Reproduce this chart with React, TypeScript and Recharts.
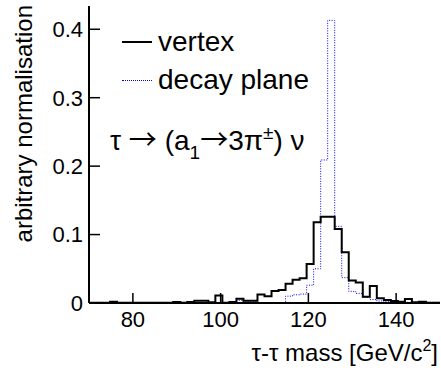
import { ComposedChart, Line, XAxis, YAxis, Legend, Customized } from "recharts";

const FONT = "'Liberation Sans', Arial, Helvetica, sans-serif";
const ARROW_FONT = "'Noto Sans CJK SC', 'DejaVu Sans', sans-serif";

// 50 bins from 70 to 150 GeV (1.6 GeV wide), low edges + final upper edge
const binEdges = [
  70, 71.6, 73.2, 74.8, 76.4, 78, 79.6, 81.2, 82.8, 84.4, 86, 87.6, 89.2, 90.8, 92.4, 94, 95.6,
  97.2, 98.8, 100.4, 102, 103.6, 105.2, 106.8, 108.4, 110, 111.6, 113.2, 114.8, 116.4, 118, 119.6,
  121.2, 122.8, 124.4, 126, 127.6, 129.2, 130.8, 132.4, 134, 135.6, 137.2, 138.8, 140.4, 142,
  143.6, 145.2, 146.8, 148.4, 150,
];

const vertex = [
  0.0005, 0.0005, 0.0005, 0.002, 0.0005, 0.0003, 0.0003, 0.0003, 0.0003, 0.0003,
  0.0003, 0.0005, 0.0015, 0.0005, 0.0015, 0.0034, 0.0034, 0.001, 0.011, 0.0005,
  0.0015, 0.0063, 0.0034, 0.0034, 0.0126, 0.0097, 0.0175, 0.019, 0.028, 0.034,
  0.036, 0.057, 0.118, 0.126, 0.126, 0.108, 0.074, 0.033, 0.03, 0.009,
  0.025, 0.007, 0.0045, 0.003, 0.002, 0.006, 0.001, 0.002, 0.0005, 0.0005,
];

const decayPlane = [
  0.0003, 0.0003, 0.0003, 0.0003, 0.0003, 0.0003, 0.0003, 0.0003, 0.0003, 0.0003,
  0.0003, 0.0003, 0.001, 0.001, 0.001, 0.001, 0.001, 0.0008, 0.0008, 0.0008,
  0.0008, 0.0039, 0.0024, 0.0024, 0.0005, 0.0005, 0.0005, 0.0005, 0.01, 0.012,
  0.013, 0.026, 0.05, 0.209, 0.413, 0.112, 0.037, 0.017, 0.014, 0.008,
  0.005, 0.003, 0.002, 0.001, 0.001, 0.001, 0.001, 0.001, 0.001, 0.001,
];

const xTicks = [80, 100, 120, 140];
const yTicks = [0, 0.1, 0.2, 0.3, 0.4];
const yMax = 0.434;

const data = binEdges.map((m, i) => ({
  m,
  vertex: vertex[Math.min(i, vertex.length - 1)],
  plane: decayPlane[Math.min(i, decayPlane.length - 1)],
}));

const XTick = ({ x, y, payload }: any) => (
  <g>
    <line x1={x} x2={x} y1={y} y2={y - 10} stroke="#000" strokeWidth={1.5} />
    <text x={x} y={y + 24} textAnchor="middle" fontFamily={FONT} fontSize={22} fill="#000">
      {payload.value}
    </text>
  </g>
);

const YTick = ({ x, y, payload }: any) => (
  <g>
    <line x1={x} x2={x + 11} y1={y} y2={y} stroke="#000" strokeWidth={1.5} />
    <text x={x - 6} y={y} dy="0.36em" textAnchor="end" fontFamily={FONT} fontSize={22} fill="#000">
      {String(payload.value)}
    </text>
  </g>
);

const LegendBox = () => (
  <div style={{ fontFamily: FONT, fontSize: 28, color: "#000" }}>
    <div style={{ display: "flex", alignItems: "center", height: 38 }}>
      <div style={{ width: 30, borderTop: "2px solid #000", marginRight: 6 }} />
      <span>vertex</span>
    </div>
    <div style={{ display: "flex", alignItems: "center", height: 38 }}>
      <div style={{ width: 30, borderTop: "1px dotted #0000ff", marginRight: 6 }} />
      <span>decay plane</span>
    </div>
  </div>
);

const Texts = () => (
  <g fontFamily={FONT} fill="#000">
    <text x={110} y={150} fontSize={28}>
      τ <tspan fontFamily={ARROW_FONT}>→</tspan> (a
      <tspan dy={9} fontSize={19}>1</tspan>
      <tspan dy={-9} fontFamily={ARROW_FONT}>→</tspan>
      <tspan>3π</tspan>
      <tspan dy={-11} fontSize={19}>±</tspan>
      <tspan dy={11}>) ν</tspan>
    </text>
    <text x={438} y={361} textAnchor="end" fontSize={24}>
      τ-τ mass [GeV/c
      <tspan dy={-10} fontSize={16}>2</tspan>
      <tspan dy={10}>]</tspan>
    </text>
    <text transform="rotate(-90)" x={-5} y={32} textAnchor="end" fontSize={24}>
      arbitrary normalisation
    </text>
  </g>
);

export default function App() {
  return (
    <div style={{ position: "absolute", left: 0, top: 0, width: 441, height: 370, background: "#fff" }}>
      <ComposedChart width={441} height={370} data={data} margin={{ top: 6, right: 1, bottom: 0, left: 0 }}>
        <XAxis
          dataKey="m"
          type="number"
          domain={[70, 150]}
          ticks={xTicks}
          allowDataOverflow
          height={67}
          tickSize={0}
          tickMargin={0}
          tickLine={false}
          tick={<XTick />}
          axisLine={{ stroke: "#000", strokeWidth: 2 }}
        />
        <XAxis
          xAxisId="top"
          orientation="top"
          type="number"
          domain={[70, 150]}
          height={0}
          tick={false}
          tickLine={false}
          axisLine={{ stroke: "#000", strokeWidth: 2 }}
        />
        <YAxis
          type="number"
          domain={[0, yMax]}
          ticks={yTicks}
          allowDataOverflow
          width={89}
          tickSize={0}
          tickMargin={0}
          tickLine={false}
          tick={<YTick />}
          axisLine={{ stroke: "#000", strokeWidth: 2 }}
        />
        <YAxis
          yAxisId="right"
          orientation="right"
          type="number"
          domain={[0, yMax]}
          width={0}
          tick={false}
          tickLine={false}
          axisLine={{ stroke: "#000", strokeWidth: 2 }}
        />
        <Line
          type="stepAfter"
          dataKey="plane"
          stroke="#0000ff"
          strokeWidth={1}
          strokeDasharray="1 1.5"
          dot={false}
          activeDot={false}
          isAnimationActive={false}
        />
        <Line
          type="stepAfter"
          dataKey="vertex"
          stroke="#000"
          strokeWidth={2}
          dot={false}
          activeDot={false}
          isAnimationActive={false}
        />
        <Legend
          layout="horizontal"
          verticalAlign="middle"
          align="center"
          content={<LegendBox />}
          wrapperStyle={{ left: 122, top: 23, width: 220, margin: 0, padding: 0 }}
        />
        <Customized component={<Texts />} />
      </ComposedChart>
    </div>
  );
}
